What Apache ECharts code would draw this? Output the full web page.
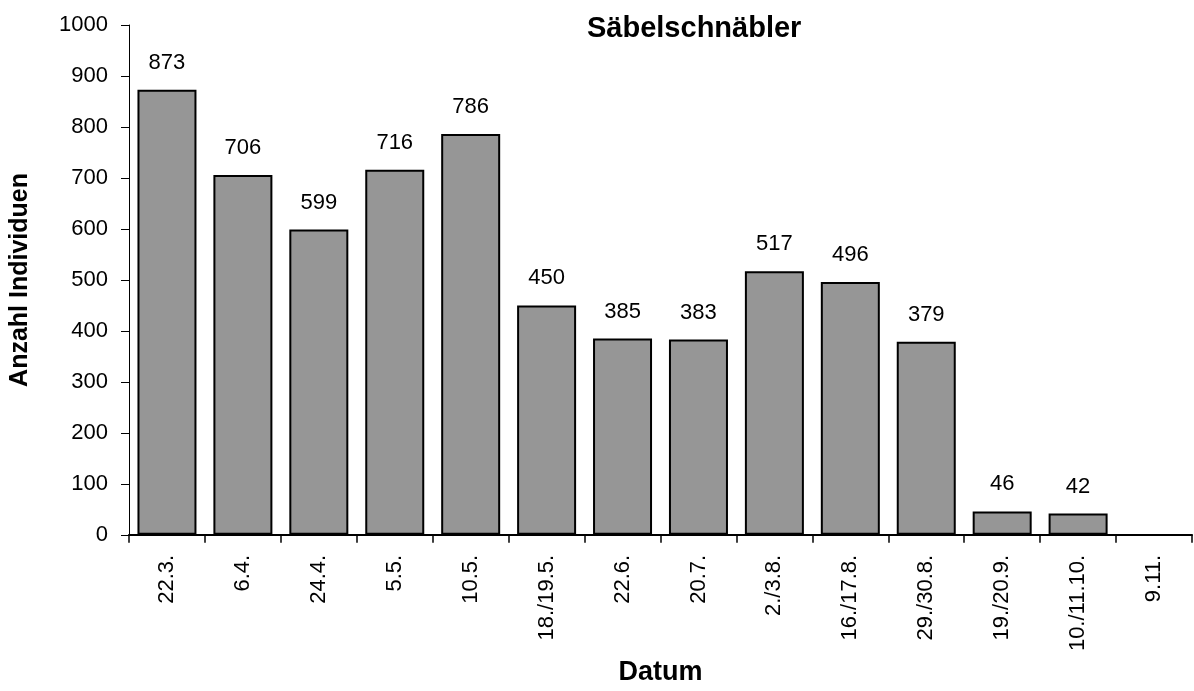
<!DOCTYPE html>
<html>
<head>
<meta charset="utf-8">
<script src="https://cdn.jsdelivr.net/npm/echarts@6/dist/echarts.min.js"></script>
<style>html,body{margin:0;padding:0;background:#fff}#c{width:1194px;height:691px}</style>
</head>
<body>
<div id="c"></div>
<script>
const categories = ['22.3.', '6.4.', '24.4.', '5.5.', '10.5.', '18./19.5.', '22.6.', '20.7.', '2./3.8.', '16./17.8.', '29./30.8.', '19./20.9.', '10./11.10.', '9.11.'];
const values = [873, 706, 599, 716, 786, 450, 385, 383, 517, 496, 379, 46, 42, null];
const yTicks = { min: 0, max: 1000, interval: 100 };
const titleText = 'Säbelschnäbler';
const xName = 'Datum';
const yName = 'Anzahl Individuen';

const FONT = '"Liberation Sans", Arial, sans-serif';
const chart = echarts.init(document.getElementById('c'), null, { renderer: 'canvas' });
chart.setOption({
  animation: false,
  backgroundColor: '#ffffff',
  textStyle: { fontFamily: FONT },
  title: {
    text: titleText,
    left: 582, top: 9,
    textStyle: { fontFamily: FONT, fontSize: 29, fontWeight: 'bold', color: '#000' }
  },
  grid: { left: 124, right: 2, top: 25, bottom: 142, containLabel: false },
  xAxis: {
    type: 'category',
    data: categories,
    boundaryGap: true,
    name: xName,
    nameLocation: 'middle',
    nameGap: 114,
    nameTextStyle: { fontFamily: FONT, fontSize: 27, fontWeight: 'bold', color: '#000' },
    axisLine: { lineStyle: { color: '#000', width: 2 } },
    axisTick: { show: true, alignWithLabel: false, length: 8, lineStyle: { color: '#000', width: 1.5 } },
    axisLabel: { rotate: 90, margin: 20, fontFamily: FONT, fontSize: 22, color: '#000', interval: 0 },
    splitLine: { show: false }
  },
  yAxis: {
    type: 'value',
    min: yTicks.min, max: yTicks.max, interval: yTicks.interval,
    name: yName,
    nameLocation: 'middle',
    nameGap: 96,
    nameRotate: 90,
    nameTextStyle: { fontFamily: FONT, fontSize: 25, fontWeight: 'bold', color: '#000' },
    axisLine: { show: true, lineStyle: { color: '#000', width: 1 } },
    axisTick: { show: true, length: 8, lineStyle: { color: '#000', width: 1 } },
    axisLabel: { margin: 21, fontFamily: FONT, fontSize: 22, color: '#000', formatter: v => String(v) },
    splitLine: { show: false }
  },
  series: [{
    type: 'bar',
    data: values,
    barWidth: 59,
    itemStyle: { color: '#969696', borderColor: '#000', borderWidth: 2 },
    label: {
      show: true, position: 'top', distance: 16,
      fontFamily: FONT, fontSize: 22, color: '#000'
    }
  }]
});
</script>
</body>
</html>
